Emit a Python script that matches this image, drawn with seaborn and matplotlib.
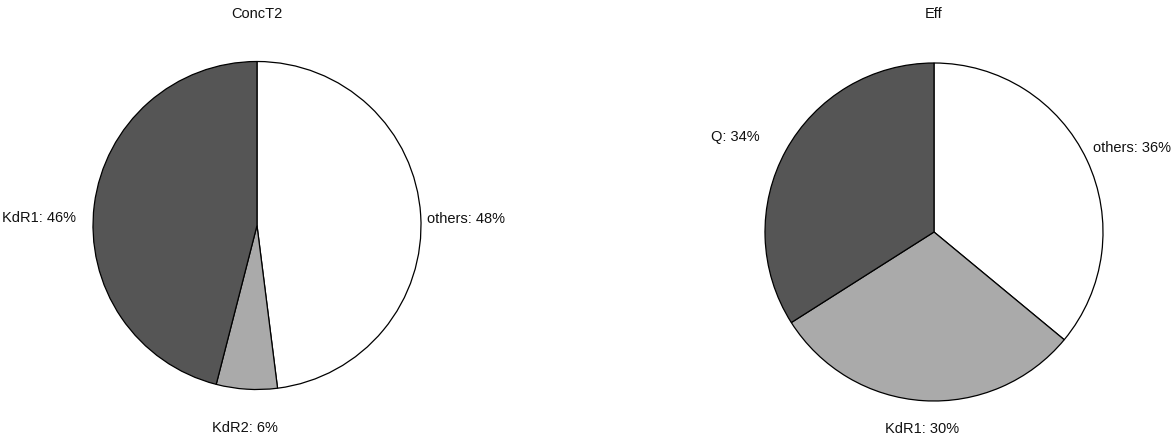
import matplotlib
matplotlib.use("Agg")
import matplotlib.pyplot as plt
import seaborn as sns
import numpy as np

sns.set_theme(style="white")
plt.rcParams['font.family'] = ['Liberation Sans', 'DejaVu Sans']

# Data
titles = ["ConcT2", "Eff"]
labels1 = ["others", "KdR2", "KdR1"]
values1 = [48, 6, 46]
labels2 = ["others", "KdR1", "Q"]
values2 = [36, 30, 34]

colors = ["#ffffff", "#aaaaaa", "#555555"]

W, H = 1172, 441
fig = plt.figure(figsize=(W / 100, H / 100), dpi=100)
fig.patch.set_facecolor("white")

def make_ax(cx, cy, r):
    return fig.add_axes([(cx - r) / W, 1 - (cy + r) / H, 2 * r / W, 2 * r / H])

ax1 = make_ax(257, 225.5, 164)
ax2 = make_ax(934, 232, 169)

FS = 10.5

def draw(ax, labels, values, title, placement, title_y):
    wedges, _ = ax.pie(values, colors=colors, startangle=90, counterclock=False,
                       radius=1, wedgeprops=dict(edgecolor="black", linewidth=0.9))
    total = sum(values)
    for w, lab, v, (r, dy, ha) in zip(wedges, labels, values, placement):
        ang = np.deg2rad((w.theta1 + w.theta2) / 2)
        x, y = r * np.cos(ang), r * np.sin(ang) + dy
        ax.text(x, y, f"{lab}: {round(100 * v / total)}%", ha=ha, va="center",
                fontsize=FS, color="#111111")
    ax.set_xlim(-1, 1)
    ax.set_ylim(-1, 1)
    ax.set_aspect("equal")
    ax.axis("off")
    ax.text(0, title_y, title, ha="center", va="center", fontsize=FS,
            color="#111111")

draw(ax1, labels1, values1, titles[0],
     [(1.04, -0.025, "left"), (1.2, -0.037, "center"), (1.11, -0.094, "right")],
     (225.5 - 14) / 164)
draw(ax2, labels2, values2, titles[1],
     [(1.04, 0.054, "left"), (1.17, 0.0, "center"), (1.18, -0.006, "right")],
     (232 - 14) / 169)

fig.savefig("out.png", dpi=100, facecolor="white")
